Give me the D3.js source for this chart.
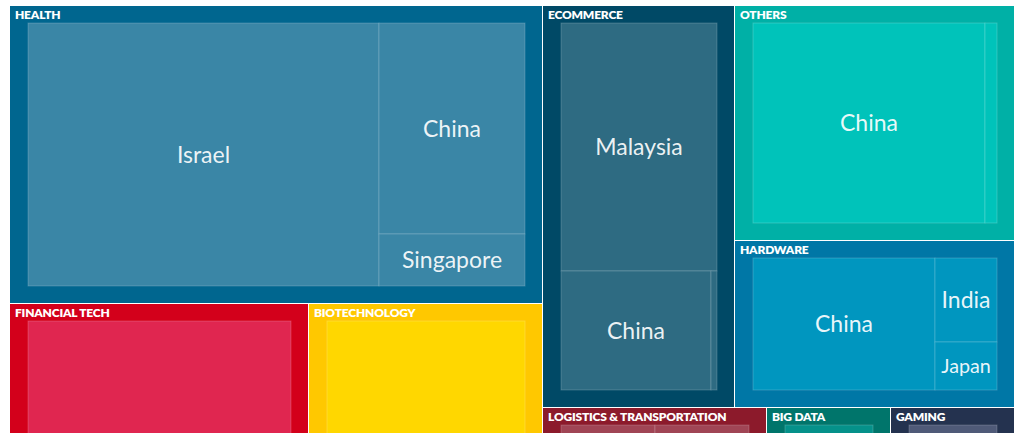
<!DOCTYPE html>
<html>
<head>
<meta charset="utf-8">
<script src="https://cdn.jsdelivr.net/npm/d3@7"></script>
<style>
  body { margin: 0; background: #fff; overflow: hidden; }
  svg { display: block; }
  .sector-label { font-family: "Source Sans Pro", Lato, sans-serif; font-weight: 800; font-size: 12px; letter-spacing: -0.2px; fill: #fff; }
  .country-label { font-family: "Source Sans Pro", Lato, sans-serif; font-weight: 400; fill: #fff; fill-opacity: 0.92; }
</style>
</head>
<body>
<svg id="chart" width="1024" height="770"></svg>
<script>
// sectors in layout order (the last one sits below the fold)
const sectors = ["Health", "Financial Tech", "Biotechnology", "Ecommerce", "Others",
    "Hardware", "Logistics & Transportation", "Big Data", "Gaming", "Education"];

// countries per sector, and the amount for each one
const countries = [
    ["Israel", "China", "Singapore"],
    ["Singapore", "India"],
    ["Israel", "China"],
    ["Malaysia", "China", "Indonesia"],
    ["China", "Japan"],
    ["China", "India", "Japan"],
    ["Singapore", "Indonesia", "China"],
    ["Singapore", "India"],
    ["China", "Japan"],
    ["China", "India"]
];
const amounts = [
    [1121, 375, 92],
    [1000, 354],
    [700, 360],
    [522, 241, 9],
    [626, 32],
    [349, 76, 43],
    [220, 220, 342],
    [140, 60],
    [120, 80],
    [300, 165]
];

// colours: sector frame, country tile
const sectorColors = ["#00668f", "#d3001b", "#ffc800", "#004966", "#00b0a6",
    "#0077a6", "#8c1a2b", "#00756b", "#24324f", "#5a2a6e"];
const tileColors = ["#3a86a6", "#e02650", "#ffd700", "#2e6b82", "#00c3ba",
    "#0096bf", "#a04555", "#05918a", "#4f5a78", "#7a4a8e"];

const WIDTH = 1004;
const HEIGHT = 750;
const MAX_FONT = 23;

const data = {
    name: "root",
    children: sectors.map((s, i) => ({
        name: s,
        idx: i,
        children: countries[i].map((c, j) => ({ name: c, value: amounts[i][j], idx: i }))
    }))
};

const root = d3.hierarchy(data).sum(d => d.value || 0);

d3.treemap()
    .tile(d3.treemapBinary)
    .size([WIDTH, HEIGHT])
    .paddingInner(d => d.depth === 0 ? 1 : 0)
    .paddingTop(d => d.depth === 1 ? 17 : 0)
    .paddingLeft(d => d.depth === 1 ? 18 : 0)
    .paddingRight(d => d.depth === 1 ? 17 : 0)
    .paddingBottom(d => d.depth === 1 ? 17 : 0)
    .round(true)(root);

const svg = d3.select("#chart");
const g = svg.append("g").attr("transform", "translate(10,6)");

const sector = g.selectAll("g.sector")
    .data(root.children)
    .join("g")
    .attr("class", "sector");

sector.append("rect")
    .attr("x", d => d.x0)
    .attr("y", d => d.y0)
    .attr("width", d => d.x1 - d.x0)
    .attr("height", d => d.y1 - d.y0)
    .attr("fill", d => sectorColors[d.data.idx]);

sector.selectAll("rect.tile")
    .data(d => d.children)
    .join("rect")
    .attr("class", "tile")
    .attr("x", d => d.x0)
    .attr("y", d => d.y0)
    .attr("width", d => d.x1 - d.x0)
    .attr("height", d => d.y1 - d.y0)
    .attr("fill", d => tileColors[d.data.idx])
    .attr("stroke", "rgba(255,255,255,0.18)")
    .attr("stroke-width", 1);

sector.append("text")
    .attr("class", "sector-label")
    .attr("x", d => d.x0 + 5)
    .attr("y", d => d.y0 + 13)
    .text(d => d.data.name.toUpperCase());

// country names, shrunk to fit narrow tiles
sector.selectAll("text.country-label")
    .data(d => d.children)
    .join("text")
    .attr("class", "country-label")
    .attr("x", d => (d.x0 + d.x1) / 2)
    .attr("y", d => (d.y0 + d.y1) / 2)
    .attr("dy", "0.35em")
    .attr("text-anchor", "middle")
    .style("font-size", MAX_FONT + "px")
    .text(d => d.data.name)
    .each(function(d) {
        const w = d.x1 - d.x0, h = d.y1 - d.y0;
        const len = this.getComputedTextLength();
        const size = Math.min(MAX_FONT, MAX_FONT * (w * 0.8) / len);
        if (size < 9 || h < size * 1.3) {
            d3.select(this).remove();
        } else {
            d3.select(this).style("font-size", size + "px");
        }
    });
</script>
</body>
</html>
